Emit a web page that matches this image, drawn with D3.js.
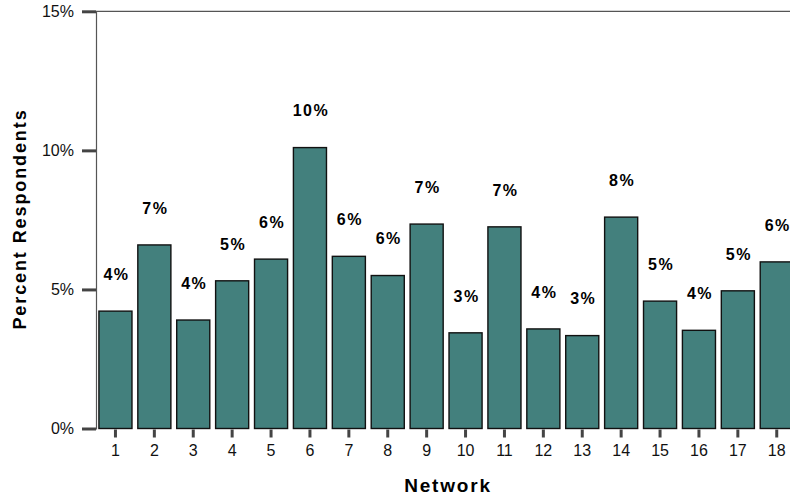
<!DOCTYPE html>
<html>
<head>
<meta charset="utf-8">
<script src="https://cdn.jsdelivr.net/npm/d3@7"></script>
<style>
  html, body { margin: 0; padding: 0; background: #fff; }
  svg { display: block; }
  svg text { font-family: "Liberation Sans", Arial, sans-serif; }
</style>
</head>
<body>
<svg id="chart" width="790" height="498"></svg>
<script>
const networks = ["1","2","3","4","5","6","7","8","9","10","11","12","13","14","15","16","17","18"];
const percents = [4.22, 6.6, 3.9, 5.31, 6.09, 10.1, 6.19, 5.5, 7.35, 3.44, 7.25, 3.58, 3.34, 7.6, 4.58, 3.53, 4.95, 5.99];
const valueLabels = ["4%","7%","4%","5%","6%","10%","6%","6%","7%","3%","7%","4%","3%","8%","5%","4%","5%","6%"];
const yTicks = [0, 5, 10, 15];

const svg = d3.select("#chart");
const plotLeft = 96, plotRight = 796.2, plotTop = 11.3, plotBottom = 428.5;
const FONT = '"Liberation Sans", Arial, sans-serif';

const x = d3.scaleBand().domain(networks).range([plotLeft, plotRight]).paddingInner(0.15).paddingOuter(0.075);
const y = d3.scaleLinear().domain([0, 15]).range([plotBottom, plotTop]);

// top frame line
svg.append("line")
  .attr("x1", plotLeft).attr("x2", 790)
  .attr("y1", y(15)).attr("y2", y(15))
  .attr("stroke", "#555").attr("stroke-width", 1.2);

// bars
svg.append("g").selectAll("rect")
  .data(percents)
  .join("rect")
  .attr("x", (d, i) => x(networks[i]))
  .attr("width", x.bandwidth())
  .attr("y", d => y(d))
  .attr("height", d => y(0) - y(d))
  .attr("fill", "#43807d")
  .attr("stroke", "#111")
  .attr("stroke-width", 1.4);

// value labels
svg.append("g").selectAll("text")
  .data(percents)
  .join("text")
  .attr("x", (d, i) => x(networks[i]) + x.bandwidth() / 2 + 1)
  .attr("y", d => y(d) - 37)
  .attr("dy", "0.36em")
  .attr("text-anchor", "middle")
  .style("font-family", FONT)
  .style("font-size", "16px")
  .style("font-weight", "bold")
  .style("letter-spacing", "1.5px")
  .attr("fill", "#000")
  .text((d, i) => valueLabels[i]);

// y axis
const yAxis = d3.axisLeft(y).tickValues(yTicks).tickFormat(d => d + "%").tickSize(14).tickPadding(8);
const gy = svg.append("g").attr("transform", `translate(${plotLeft},0)`).call(yAxis);
gy.select(".domain").attr("stroke", "#555").attr("stroke-width", 1.2);
gy.selectAll(".tick line").attr("stroke", "#444").attr("stroke-width", 3);
gy.selectAll(".tick text")
  .style("font-family", FONT)
  .style("font-size", "16px")
  .attr("fill", "#111");

// x axis
const xAxis = d3.axisBottom(x).tickSize(8).tickPadding(7);
const gx = svg.append("g").attr("transform", `translate(0,${plotBottom + 1})`).call(xAxis);
gx.select(".domain").remove();
gx.selectAll(".tick line").attr("stroke", "#444").attr("stroke-width", 3);
gx.selectAll(".tick text")
  .style("font-family", FONT)
  .style("font-size", "16px")
  .attr("fill", "#111");

// axis titles
svg.append("text")
  .attr("x", 448).attr("y", 485)
  .attr("dy", "0.36em")
  .attr("text-anchor", "middle")
  .style("font-family", FONT)
  .style("font-size", "19px")
  .style("font-weight", "bold")
  .style("letter-spacing", "1.8px")
  .text("Network");

svg.append("text")
  .attr("transform", "translate(20,219) rotate(-90)")
  .attr("dy", "0.36em")
  .attr("text-anchor", "middle")
  .style("font-family", FONT)
  .style("font-size", "18px")
  .style("font-weight", "bold")
  .style("letter-spacing", "1.9px")
  .text("Percent Respondents");
</script>
</body>
</html>
